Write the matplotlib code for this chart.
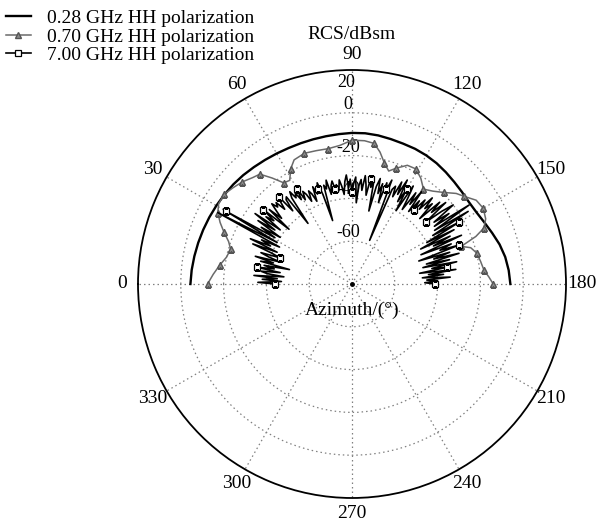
import numpy as np
import matplotlib
matplotlib.use("Agg")
import matplotlib.pyplot as plt

plt.rcParams['font.family'] = ['Liberation Serif', 'DejaVu Serif']
plt.rcParams['font.size'] = 14

# ---- data: RCS (dBsm) versus azimuth (deg), HH polarization ----
az_028 = np.arange(0, 181, 5)
rcs_028 = [-4.5, -4.8, -5.2, -5.6, -6.0, -6.4, -6.8, -7.2, -7.6, -8.1,
           -8.7, -9.2, -9.6, -9.9, -10.0, -10.0, -9.9, -9.7, -9.4, -9.3,
           -9.5, -9.9, -10.2, -10.3, -10.6, -11.1, -11.8, -12.5, -13.0, -13.3,
           -12.9, -11.8, -10.3, -8.6, -7.3, -6.5, -6.0]

az_070 = [0, 4, 8, 12, 16, 19, 22, 25, 28, 31, 35, 39, 43, 47, 50, 53, 56,
          59, 62, 65, 70, 75, 80, 85, 90, 95, 99, 102, 105, 108, 111, 115,
          119, 123, 127, 131, 135, 139, 142, 146, 150, 154, 157, 159, 161,
          163, 166, 170, 174, 177, 180]
rcs_070 = [-12.5, -15.0, -17.5, -20.0, -21.0, -19.0, -15.5, -12.0, -9.0, -7.3,
           -7.0, -8.5, -10.0, -12.0, -13.0, -18.0, -23.0, -23.5, -19.0, -16.0,
           -15.0, -15.5, -15.8, -15.0, -12.8, -12.8, -13.5, -17.0, -21.5, -24.5,
           -22.0, -18.8, -18.5, -21.0, -24.5, -22.5, -19.5, -15.5, -13.5, -10.0,
           -9.2, -10.5, -13.0, -18.0, -26.0, -22.0, -20.0, -19.0, -18.0, -16.0,
           -14.0]

az_700 = np.arange(0, 181, 1)
rcs_700 = [
    # 0-20
    -44, -36, -47, -38, -45, -34, -48, -40, -37, -46, -35, -43, -38, -50, -36,
    -42, -33, -45, -39, -35, -44,
    # 21-31
    -40, -30, -42, -28, -38, -33, -42, -9, -40, -12, -38,
    # 32-45
    -30, -40, -27, -36, -24, -38, -29, -33, -26, -41, -28, -35, -31, -27,
    # 46-60
    -30, -28, -33, -29, -27, -36, -30, -29, -45, -31, -28, -32, -30, -34, -29,
    # 61-80
    -35, -31, -33, -37, -32, -34, -38, -31, -35, -33, -30, -36, -49, -32, -34,
    -30, -37, -33, -31, -35,
    # 81-100
    -33, -36, -31, -34, -38, -32, -29, -35, -31, -37, -33, -30, -42, -34, -31,
    -36, -29, -33, -38, -30,
    # 101-115
    -34, -31, -45, -33, -29, -36, -31, -40, -30, -33, -28, -58, -32, -30, -35,
    # 116-130
    -27, -33, -25, -36, -29, -40, -26, -32, -38, -28, -34, -26, -37, -30, -35,
    # 131-145
    -28, -33, -25, -31, -27, -36, -24, -30, -22, -35, -26, -20, -32, -24, -33,
    # 146-150
    -14, -34, -16, -36, -22,
    # 151-165
    -40, -26, -44, -29, -38, -24, -45, -30, -36, -27, -47, -32, -40, -28, -44,
    # 166-180
    -33, -46, -30, -42, -35, -48, -31, -44, -37, -47, -34, -45, -40, -46, -41,
]

theta_ticks = np.arange(0, 360, 30)
ring_ticks = [-60, -40, -20, 0]
r_min, r_max = -80, 20

fig = plt.figure(figsize=(6.09, 5.23), dpi=100)
ax = fig.add_axes([0.2266, 0.0478, 0.7028, 0.8184], projection='polar')
ax.set_theta_zero_location('W')
ax.set_theta_direction(-1)
ax.set_rlim(r_min, r_max)

ax.plot(np.deg2rad(az_028), rcs_028, color='black', lw=1.7,
        label='0.28 GHz HH polarization', zorder=3)
ax.plot(np.deg2rad(az_070), rcs_070, color='#6a6a6a', lw=1.1,
        marker='^', ms=4.5, mfc='#8a8a8a', mec='#555555', markevery=2,
        label='0.70 GHz HH polarization', zorder=4)
ax.plot(np.deg2rad(az_700), rcs_700, color='black', lw=1.2,
        marker='s', ms=5, mfc='white', mec='black', mew=0.9, markevery=10,
        label='7.00 GHz HH polarization', zorder=5)

# grid
ax.set_thetagrids(theta_ticks, [str(t) for t in theta_ticks])
ax.set_rticks(ring_ticks)
ax.set_yticklabels([])
ax.grid(True, color='#808080', ls=(0, (1.2, 2.4)), lw=0.9)
ax.spines['polar'].set_linewidth(1.3)
ax.tick_params(axis='x', pad=1, labelsize=14)
ax.plot([0], [r_min], 'o', color='black', ms=2.5, zorder=6)

# radial labels along the 90 degree spoke
for v in ring_ticks:
    ax.annotate(str(v), xy=(np.pi / 2, v), xytext=(-3, 0),
                textcoords='offset points', ha='center', va='bottom',
                fontsize=13, zorder=2)
ax.annotate('20', xy=(np.pi / 2, r_max), xytext=(-4, -3),
            textcoords='offset points', ha='center', va='top', fontsize=13)

fig.text(0.578, 0.934, 'RCS/dBsm', ha='center', va='center', fontsize=14)
fig.text(0.578, 0.407, 'Azimuth/(°)', ha='center', va='center', fontsize=14)

fig.legend(loc='upper left', bbox_to_anchor=(0.0, 0.993), frameon=False,
           fontsize=14, handlelength=1.3, handletextpad=0.8,
           labelspacing=0.05, borderpad=0.2, borderaxespad=0.1)

fig.savefig('out.png', dpi=100)
